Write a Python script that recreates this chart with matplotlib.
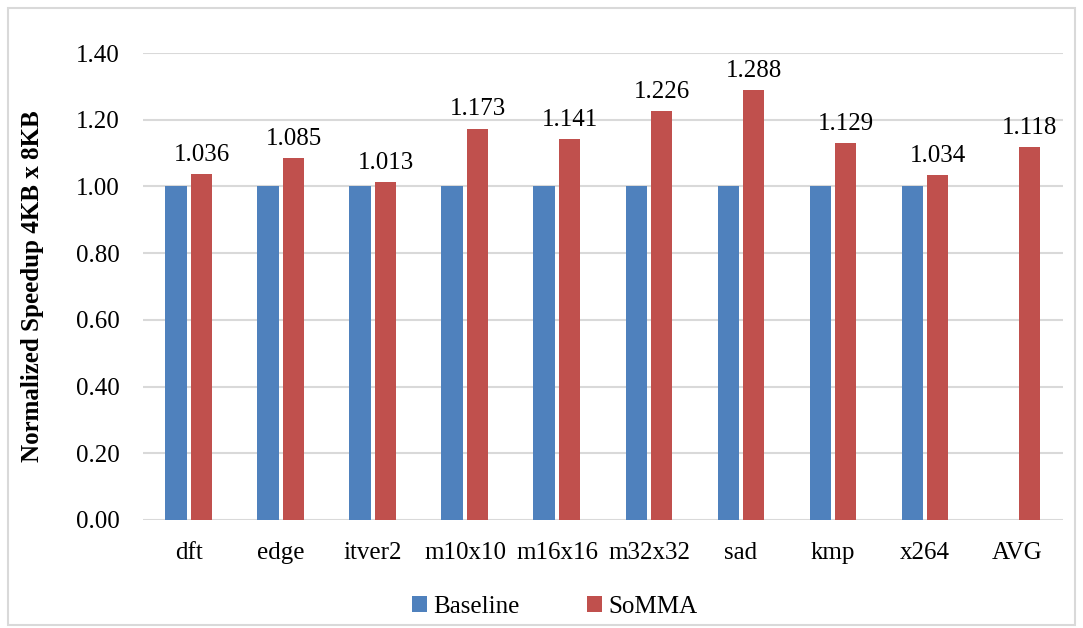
import matplotlib.pyplot as plt
import numpy as np
from matplotlib.patches import Rectangle

categories = ['dft', 'edge', 'itver2', 'm10x10', 'm16x16', 'm32x32', 'sad', 'kmp', 'x264', 'AVG']
baseline = [1.0, 1.0, 1.0, 1.0, 1.0, 1.0, 1.0, 1.0, 1.0, np.nan]
somma = [1.036, 1.085, 1.013, 1.173, 1.141, 1.226, 1.288, 1.129, 1.034, 1.118]

plt.rcParams['font.family'] = ['Liberation Serif', 'DejaVu Serif']

fig = plt.figure(figsize=(10.83, 6.28), dpi=100)
ax = fig.add_axes([0.132, 0.172, 0.8495, 0.7436])

x = np.arange(len(categories))
w = 0.23
ax.bar(x - 0.14, baseline, w, color='#4F81BD', label='Baseline', zorder=3)
ax.bar(x + 0.14, somma, w, color='#C0504D', label='SoMMA', zorder=3)

# 数据标签
for xi, v in zip(x, somma):
    ax.text(xi + 0.14, v + 0.025, '%.3f' % v, ha='center', va='bottom', fontsize=18)

ax.set_xlim(-0.5, len(categories) - 0.5)
ax.set_ylim(0, 1.4)
ax.set_yticks(np.arange(0, 1.41, 0.2))
ax.set_yticklabels(['%.2f' % t for t in np.arange(0, 1.41, 0.2)], fontsize=18)
ax.set_xticks(x)
ax.set_xticklabels(categories, fontsize=18)
ax.tick_params(length=0)
ax.tick_params(axis='x', pad=16)
ax.tick_params(axis='y', pad=17)
ax.grid(axis='y', color='#D9D9D9', linewidth=1.5, zorder=0)
for s in ax.spines.values():
    s.set_visible(False)

ax.set_ylabel('Normalized Speedup 4KB x 8KB', fontsize=18, fontweight='bold', labelpad=23)

ax.legend(loc='upper center', bbox_to_anchor=(0.448, -0.115), ncol=2, frameon=False,
          fontsize=18, handlelength=0.6, handleheight=0.6, handletextpad=0.25, columnspacing=2.7)

fig.patches.append(Rectangle((0.007, 0.005), 0.986, 0.982, transform=fig.transFigure,
                             fill=False, edgecolor='#D9D9D9', linewidth=1.5))

fig.savefig('out.png', dpi=100)
